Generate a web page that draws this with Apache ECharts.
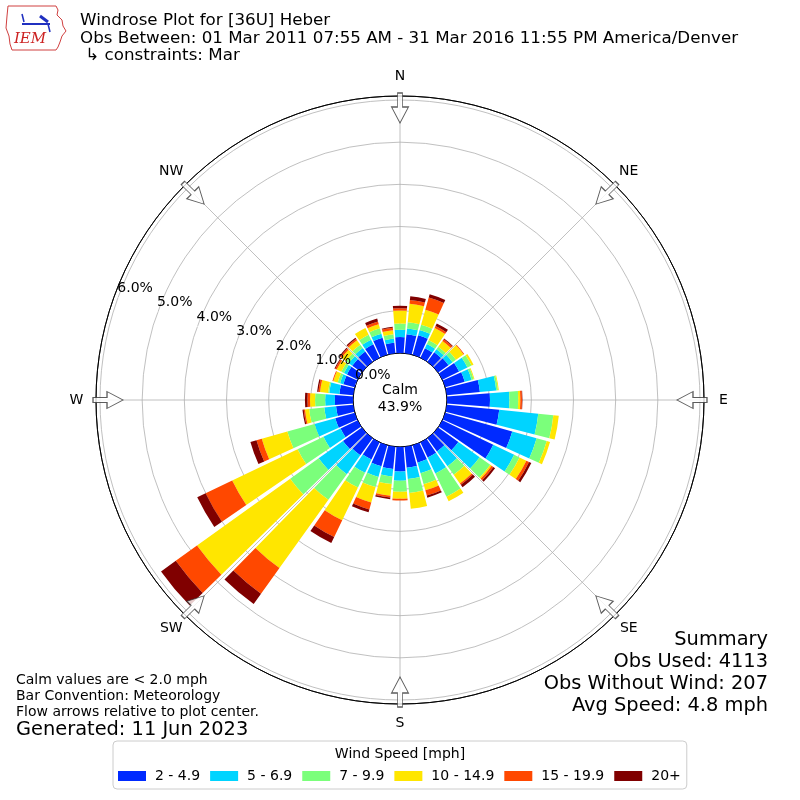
<!DOCTYPE html>
<html><head><meta charset="utf-8">
<script src="https://cdn.jsdelivr.net/npm/echarts@6/dist/echarts.min.js"></script>
<style>html,body{margin:0;padding:0;background:#fff}#c{width:800px;height:800px}</style>
</head><body><div id="c"></div>
<script>
// ---- data ----
const dirDeg = [0,10,20,30,40,50,60,70,80,90,100,110,120,130,140,150,160,170,180,190,200,210,220,230,240,250,260,270,280,290,300,310,320,330,340,350];
const speedBins = ['2 - 4.9','5 - 6.9','7 - 9.9','10 - 14.9','15 - 19.9','20+'];
const binColors = ['#002aff','#00d4ff','#7bff7b','#ffe600','#ff4800','#800000'];
const s2to5   = [.38,.45,.48,.25,.28,.30,.44,.48,.79,1.02,1.25,1.65,1.34,.59,.39,.40,.43,.50,.58,.53,.52,.45,.50,.55,.45,.48,.41,.43,.33,.28,.28,.28,.30,.35,.42,.25];
const s5to7   = [.17,.14,.13,.11,.09,.12,.22,.17,.39,.46,.93,.60,.55,.62,.43,.42,.26,.27,.22,.18,.26,.35,.55,.71,.45,.51,.28,.23,.24,.08,.08,.10,.10,.12,.10,.10];
const s7to10  = [.15,.15,.13,.10,.07,.10,.11,.05,.04,.21,.36,.25,.14,.31,.25,.61,.27,.33,.26,.18,.25,.39,.75,.83,.68,.67,.36,.24,.03,.06,.07,.08,.10,.13,.13,.10];
const s10to15 = [.31,.44,.37,.32,.17,.22,.05,.02,.02,.05,.13,.08,.18,.04,.25,.12,.15,.38,.17,.28,.38,.86,1.99,2.72,1.72,.63,.10,.12,.19,.11,.12,.13,.13,.18,.10,.10];
const s15to20 = [.05,.09,.30,.05,.05,.02,0,0,0,.04,0,0,.07,.05,.04,0,.13,0,.04,.04,.17,.44,.75,.62,.70,.13,.03,.06,.04,.02,.04,.04,.04,0,.07,.06];
const s20plus = [.06,.09,.08,.07,.02,0,0,0,0,.01,0,0,.06,.05,.07,0,.05,0,0,.04,.07,.16,.30,.43,.22,.15,.03,.06,.03,0,.02,.03,.03,0,.07,.02];
const rTicks = [0,1,2,3,4,5,6];
const compassNames = ['N','NE','E','SE','S','SW','W','NW'];
const compassDeg = [0,45,90,135,180,225,270,315];
const calmPct = '43.9%';
const titleLines = ['Windrose Plot for [36U] Heber','Obs Between: 01 Mar 2011 07:55 AM - 31 Mar 2016 11:55 PM America/Denver',' \u21b3 constraints: Mar'];
const noteLines = ['Calm values are < 2.0 mph','Bar Convention: Meteorology','Flow arrows relative to plot center.'];
const generated = 'Generated: 11 Jun 2023';
const summaryLines = ['Summary','Obs Used: 4113','Obs Without Wind: 207','Avg Speed: 4.8 mph'];

// ---- layout ----
const FONT = 'DejaVu Sans';
const RMAX = 6.095;          // axis extent slightly above 6 %
const ARROW_R = 5.81;        // arrow centre radius (axis units)
const RLABEL_ANGLE = 290;    // radial labels direction
const seriesData = [s2to5, s5to7, s7to10, s10to15, s15to20, s20plus];

const chart = echarts.init(document.getElementById('c'), null, {renderer:'canvas'});

const barSeries = speedBins.map((name, i) => ({
  name, type:'bar', coordinateSystem:'polar', polarIndex:0, stack:'ws',
  data: seriesData[i], barWidth:'87%', itemStyle:{color: binColors[i]}, z:3,
  emphasis:{disabled:true}
}));

const arrowPath = 'path://M6,0 L11,0 L11,14 L17,14 L8.5,30 L0,14 L6,14 Z';

const txt = (text, x, y, size, align, extra) => ({
  type:'text', x, y, z:100,
  style: Object.assign({text, fontSize:size, fontFamily:FONT, fill:'#000', align: align||'left', verticalAlign:'middle'}, extra||{})
});
const hiddenAxis = {axisLine:{show:false}, axisTick:{show:false}, axisLabel:{show:false}, splitLine:{show:false}};
const labelStyle = {show:true, position:'inside', fontSize:14, fontFamily:FONT, color:'#000', opacity:1, textBorderWidth:0};

const option = {
  animation:false,
  backgroundColor:'#fff',
  polar:[
    {center:[400,400], radius:[47,304]},
    {center:[400,400], radius:[47,304]},
    {center:[400,400], radius:[0,323.5]}
  ],
  angleAxis:[
    Object.assign({polarIndex:0, type:'category', data: dirDeg.map(String), startAngle:95, clockwise:true, boundaryGap:true}, hiddenAxis),
    {polarIndex:1, type:'value', min:0, max:360, interval:45, startAngle:90, clockwise:true,
     axisLine:{show:true, lineStyle:{color:'#000', width:1}}, axisTick:{show:false}, axisLabel:{show:false},
     splitLine:{show:true, lineStyle:{color:'#b0b0b0', width:0.8}}},
    Object.assign({polarIndex:2, type:'value', min:0, max:360, startAngle:90, clockwise:true}, hiddenAxis)
  ],
  radiusAxis:[
    Object.assign({polarIndex:0, min:0, max:RMAX}, hiddenAxis),
    {polarIndex:1, min:0, max:RMAX, interval:1, axisLine:{show:false}, axisTick:{show:false}, axisLabel:{show:false},
     splitLine:{show:true, lineStyle:{color:['#000','#b0b0b0','#b0b0b0','#b0b0b0','#b0b0b0','#b0b0b0','#b0b0b0','#000'], width:0.8}}},
    Object.assign({polarIndex:2, min:0, max:1}, hiddenAxis)
  ],
  legend:{
    data: speedBins, left:113, top:741, orient:'horizontal',
    padding:[28,6,6,5], itemWidth:28, itemHeight:10, itemGap:10,
    borderColor:'#cccccc', borderWidth:1, borderRadius:4, icon:'rect', selectedMode:false,
    textStyle:{fontSize:14, fontFamily:FONT, color:'#000', padding:[0,0,0,4]}
  },
  series: barSeries.concat([
    { type:'scatter', coordinateSystem:'polar', polarIndex:1, z:20, silent:true,
      symbol: arrowPath, symbolSize:[17,30],
      data: compassDeg.map(a => ({value:[ARROW_R, a], symbolRotate: -a})),
      itemStyle:{color:'#fff', borderColor:'#333', borderWidth:1} },
    { type:'scatter', coordinateSystem:'polar', polarIndex:2, z:20, silent:true,
      symbolSize:1, itemStyle:{color:'#fff', opacity:1},
      data: compassNames.map((n, i) => ({name:n, value:[1, compassDeg[i]]})),
      label:Object.assign({formatter:'{b}'}, labelStyle) },
    { type:'scatter', coordinateSystem:'polar', polarIndex:1, z:20, silent:true,
      symbolSize:1, itemStyle:{color:'#fff', opacity:1},
      data: rTicks.map(r => ({value:[r, RLABEL_ANGLE]})),
      label:Object.assign({offset:[17,-9], formatter: p => p.value[0].toFixed(1) + '%'}, labelStyle) }
  ]),
  graphic: [
    // logo (simplified)
    {type:'polyline', z:100, shape:{points:[[8,6],[56,6],[58,10],[57,15],[62,20],[63,26],[66,31],[62,36],[60,42],[58,47],[56,50],[12,50],[10,44],[9,36],[6,28],[7,16],[8,6]]},
     style:{stroke:'#d04040', lineWidth:1, fill:null}},
    {type:'polyline', z:100, shape:{points:[[22,24],[50,24]]}, style:{stroke:'#2030c0', lineWidth:2}},
    {type:'polyline', z:100, shape:{points:[[22,14],[24,22]]}, style:{stroke:'#2030c0', lineWidth:1.5}},
    {type:'polyline', z:100, shape:{points:[[40,16],[48,22]]}, style:{stroke:'#2030c0', lineWidth:3}},
    {type:'polyline', z:100, shape:{points:[[48,24],[50,32]]}, style:{stroke:'#2030c0', lineWidth:1.5}},
    txt('IEM', 30, 39, 15, 'center', {fill:'#cc2222', fontFamily:'DejaVu Serif', fontStyle:'italic'}),
    // title
    txt(titleLines[0], 80, 20.8, 16.7),
    txt(titleLines[1], 80, 38.3, 16.7),
    txt(titleLines[2], 80, 55.7, 16.7),
    // calm
    txt('Calm', 400, 390, 14, 'center'),
    txt(calmPct, 400, 407, 14, 'center'),
    // notes
    txt(noteLines[0], 16, 680, 14),
    txt(noteLines[1], 16, 696, 14),
    txt(noteLines[2], 16, 712, 14),
    txt(generated, 16, 730, 19.4),
    // summary
    txt(summaryLines[0], 768, 640, 19.4, 'right'),
    txt(summaryLines[1], 768, 662, 19.4, 'right'),
    txt(summaryLines[2], 768, 684, 19.4, 'right'),
    txt(summaryLines[3], 768, 706, 19.4, 'right'),
    // legend title
    txt('Wind Speed [mph]', 400, 754, 14, 'center')
  ]
};
chart.setOption(option);
</script>
</body></html>
